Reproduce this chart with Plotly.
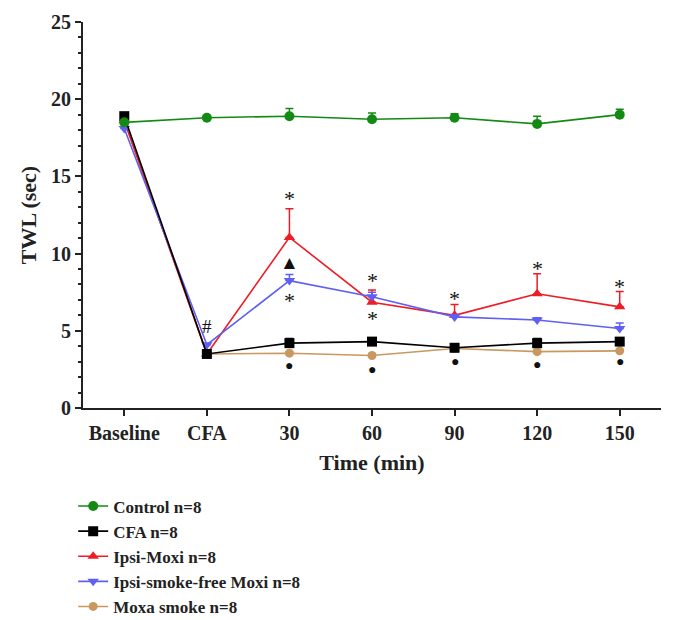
import plotly.graph_objects as go

categories = ["Baseline", "CFA", "30", "60", "90", "120", "150"]
x_idx = list(range(len(categories)))

control = [18.5, 18.8, 18.9, 18.7, 18.8, 18.4, 19.0]
control_err = [0.0, 0.1, 0.5, 0.4, 0.25, 0.5, 0.35]
cfa = [18.9, 3.5, 4.2, 4.3, 3.9, 4.2, 4.3]
cfa_err = [0.0, 0.0, 0.3, 0.25, 0.2, 0.3, 0.25]
ipsi_moxi = [18.6, 3.5, 11.05, 6.85, 6.0, 7.4, 6.55]
ipsi_moxi_err = [0.0, 0.0, 1.85, 0.8, 0.7, 1.3, 1.0]
smokefree = [18.1, 4.1, 8.25, 7.2, 5.9, 5.7, 5.15]
smokefree_err = [0.0, 0.0, 0.4, 0.3, 0.15, 0.15, 0.35]
moxa = [18.6, 3.5, 3.55, 3.4, 3.85, 3.65, 3.7]
moxa_err = [0.0, 0.0, 0.1, 0.1, 0.1, 0.1, 0.1]

# significance marks: (category index, y value, symbol)
marks_x = [1, 2, 2, 2, 2, 3, 3, 3, 4, 4, 5, 5, 6, 6]
marks_y = [5.3, 13.6, 9.4, 6.95, 2.75, 8.25, 5.8, 2.5, 7.1, 3.0, 9.05, 2.85, 7.85, 3.0]
marks_t = ["#", "*", "▲", "*", "●", "*", "*", "●", "*", "●", "*", "●", "*", "●"]

yticks = [0, 5, 10, 15, 20, 25]

fig = go.Figure()

def add(name, y, err, color, symbol, size, rank):
    fig.add_trace(go.Scatter(
        x=x_idx, y=y, name=name, mode="lines+markers",
        line=dict(color=color, width=1.6),
        marker=dict(color=color, symbol=symbol, size=size),
        error_y=dict(type="data", symmetric=False, array=err,
                     arrayminus=[0] * len(err), color=color,
                     thickness=1.5, width=4),
        legendrank=rank,
    ))

add("Moxa smoke n=8", moxa, moxa_err, "#c9985f", "circle", 9, 5)
add("Ipsi-Moxi n=8", ipsi_moxi, ipsi_moxi_err, "#ee1c24", "triangle-up", 10, 3)
add("Ipsi-smoke-free Moxi n=8", smokefree, smokefree_err, "#5f5ff2", "triangle-down", 10, 4)
add("CFA n=8", cfa, cfa_err, "#000000", "square", 10, 2)
add("Control n=8", control, control_err, "#138a13", "circle", 10, 1)

sizes = {"*": 22, "▲": 19, "●": 14, "#": 19}
for xi, yi, t in zip(marks_x, marks_y, marks_t):
    fig.add_annotation(x=xi, y=yi, xref="x", yref="y", text=t, showarrow=False,
                       font=dict(family="Liberation Serif", size=sizes[t], color="#111111"))

serif = "Liberation Serif"
fig.update_layout(
    width=676, height=620,
    margin=dict(l=75, r=23, t=14, b=220, autoexpand=False),
    plot_bgcolor="white", paper_bgcolor="white",
    font=dict(family=serif, color="#222222"),
    showlegend=True,
    legend=dict(x=-0.017, y=-0.2085, xanchor="left", yanchor="top",
                font=dict(family=serif, size=17, color="#222222", weight="bold"),
                itemwidth=30, tracegroupgap=0, bgcolor="rgba(0,0,0,0)"),
    xaxis=dict(
        range=[-0.5, 6.5], tickvals=x_idx, ticktext=categories,
        showline=True, linecolor="#222222", linewidth=2,
        ticks="outside", ticklen=6, tickwidth=2, tickcolor="#222222",
        showgrid=False, zeroline=False,
        tickfont=dict(family=serif, size=20, color="#222222", weight="bold"),
        title=dict(text="Time (min)", standoff=12,
                   font=dict(family=serif, size=22, color="#222222", weight="bold")),
    ),
    yaxis=dict(
        range=[0, 25], tickvals=yticks,
        showline=True, linecolor="#222222", linewidth=2,
        ticks="outside", ticklen=6, tickwidth=2, tickcolor="#222222",
        minor=dict(dtick=1, ticks="outside", ticklen=3, tickwidth=1.5, tickcolor="#222222", showgrid=False),
        showgrid=False, zeroline=False,
        tickfont=dict(family=serif, size=20, color="#222222", weight="bold"),
        title=dict(text="TWL (sec)", standoff=8,
                   font=dict(family=serif, size=22, color="#222222", weight="bold")),
    ),
)

fig.write_html("out.html")
